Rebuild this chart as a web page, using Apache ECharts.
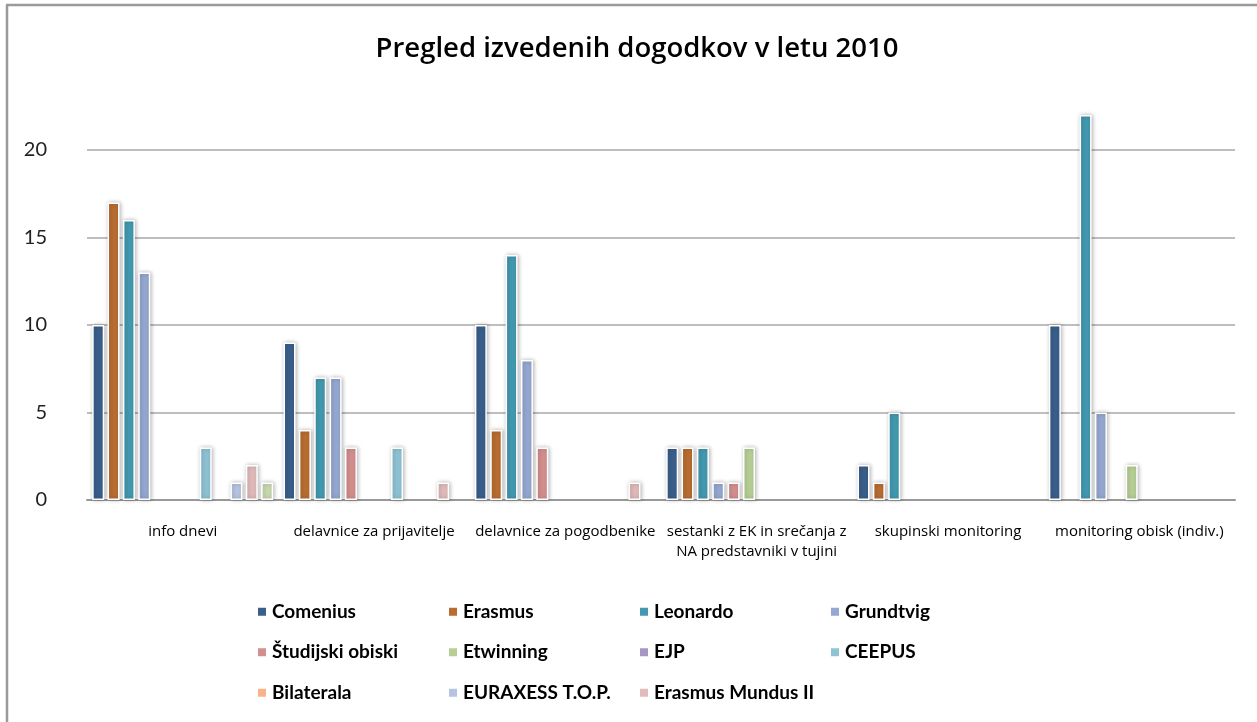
<!DOCTYPE html>
<html>
<head>
<meta charset="utf-8">
<style>
html,body{margin:0;padding:0;background:#fff;}
#chart{width:1257px;height:722px;}
</style>
<script src="https://cdn.jsdelivr.net/npm/echarts@6/dist/echarts.min.js"></script>
</head>
<body>
<div id="chart"></div>
<script>
const titleText = 'Pregled izvedenih dogodkov v letu 2010';
const categories = ['info dnevi', 'delavnice za prijavitelje', 'delavnice za pogodbenike',
  'sestanki z EK in srečanja z\nNA predstavniki v tujini', 'skupinski monitoring', 'monitoring obisk (indiv.)'];
const yTicks = [0, 5, 10, 15, 20];

const seriesNames = ['Comenius', 'Erasmus', 'Leonardo', 'Grundtvig', 'Študijski obiski', 'Etwinning',
  'EJP', 'CEEPUS', 'Bilaterala', 'EURAXESS T.O.P.', 'Erasmus Mundus II', 'Serija 12'];
const legendNames = seriesNames.slice(0, 11);

const comenius      = [10, 9, 10, 3, 2, 10];
const erasmus       = [17, 4, 4, 3, 1, 0];
const leonardo      = [16, 7, 14, 3, 5, 22];
const grundtvig     = [13, 7, 8, 1, 0, 5];
const studijski     = [0, 3, 3, 1, 0, 0];
const etwinning     = [0, 0, 0, 3, 0, 2];
const ejp           = [0, 0, 0, 0, 0, 0];
const ceepus        = [3, 3, 0, 0, 0, 0];
const bilaterala    = [0, 0, 0, 0, 0, 0];
const euraxess      = [1, 0, 0, 0, 0, 0];
const erasmusMundus = [2, 1, 1, 0, 0, 0];
const serija12      = [1, 0, 0, 0, 0, 0];

const seriesValues = [comenius, erasmus, leonardo, grundtvig, studijski, etwinning,
  ejp, ceepus, bilaterala, euraxess, erasmusMundus, serija12];

const colors = ['#3A5F8B', '#B96D31', '#4299B0', '#95A8D1', '#D38F8E', '#B7CF95',
  '#A699C1', '#8EC3D4', '#F8B488', '#B7C4E1', '#E1BBBB', '#CAD9B0'];

const chart = echarts.init(document.getElementById('chart'));
const font = 'Lato, "Open Sans", sans-serif';

chart.setOption({
  animation: false,
  backgroundColor: '#fff',
  color: colors,
  title: {
    text: titleText,
    left: 632,
    textAlign: 'center',
    top: 30,
    textStyle: { fontFamily: '"Open Sans", sans-serif', fontSize: 27.5, fontWeight: 600, color: '#000' }
  },
  graphic: [
    { type: 'line', shape: { x1: 6, y1: 5, x2: 1257, y2: 5 }, style: { stroke: '#9a9a9a', lineWidth: 2.5 } },
    { type: 'line', shape: { x1: 7, y1: 5, x2: 7, y2: 722 }, style: { stroke: '#9a9a9a', lineWidth: 2.5 } }
  ],
  legend: {
    data: legendNames,
    left: 251,
    top: 589,
    width: 765,
    itemWidth: 10,
    itemHeight: 10,
    itemGap: 5,
    icon: 'rect',
    textStyle: { fontFamily: font, fontSize: 19, fontWeight: 'bold', color: '#000', width: 170, overflow: 'none', lineHeight: 35.5 }
  },
  grid: { left: 87, right: 22, top: 150, bottom: 222, containLabel: false },
  xAxis: {
    type: 'category',
    data: categories,
    axisLine: { lineStyle: { color: '#999', width: 2 } },
    axisTick: { show: false },
    axisLabel: { interval: 0, margin: 22, fontFamily: '"Open Sans", sans-serif', fontSize: 15, color: '#000', lineHeight: 20 }
  },
  yAxis: {
    type: 'value',
    min: yTicks[0],
    max: yTicks[yTicks.length - 1],
    interval: 5,
    axisLine: { show: false },
    axisTick: { show: false },
    axisLabel: { margin: 40, fontFamily: font, fontSize: 20, color: '#222' },
    splitLine: { lineStyle: { color: '#a8a8a8', width: 1.5 } }
  },
  series: seriesValues.map((vals, i) => ({
    name: seriesNames[i],
    type: 'bar',
    data: vals.map(v => (v === 0 ? '-' : v)),
    clip: false,
    barWidth: 12,
    barGap: '28%',
    itemStyle: {
      color: colors[i],
      borderColor: '#fff',
      borderWidth: 1.5,
      shadowBlur: 4,
      shadowColor: 'rgba(0,0,0,0.28)',
      shadowOffsetX: 1,
      shadowOffsetY: 0
    }
  }))
});
</script>
</body>
</html>
